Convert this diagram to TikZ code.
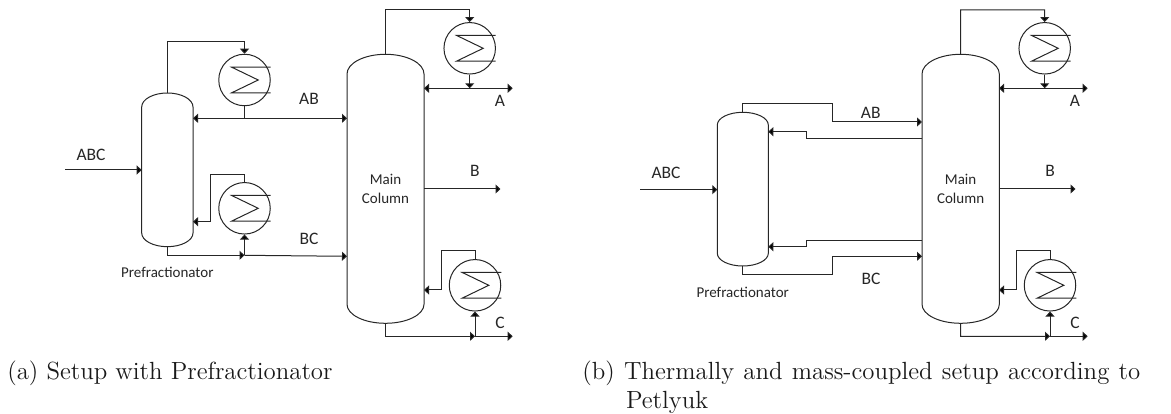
\documentclass[tikz,border=0pt]{standalone}
\usepackage{fontspec}
\usetikzlibrary{arrows.meta}
\newfontfamily\dgfont{Carlito}
\newcommand{\ColShape}[7]{%
  % name, xleft, xright, ytop, yshoulder top, yshoulder bottom, ybottom
  \pgfmathsetmacro{\cx}{(#2+#3)/2}
  \pgfmathsetmacro{\kx}{0.5523*(#3-#2)/2}
  \pgfmathsetmacro{\kt}{0.5523*(#5-#4)}
  \pgfmathsetmacro{\kb}{0.5523*(#7-#6)}
  \draw[vessel] (#2,#5) .. controls (#2,#5-\kt) and (\cx-\kx,#4) .. (\cx,#4)
     .. controls (\cx+\kx,#4) and (#3,#5-\kt) .. (#3,#5)
     -- (#3,#6) .. controls (#3,#6+\kb) and (\cx+\kx,#7) .. (\cx,#7)
     .. controls (\cx-\kx,#7) and (#2,#6+\kb) .. (#2,#6) -- cycle;
  \coordinate (#1-t) at (\cx,#4);
  \coordinate (#1-b) at (\cx,#7);
}
\newcommand{\Exch}[5]{%
  % name, cx, cy, x shift of the coil's left end, dummy
  \node[exch] (#1) at (#2,#3) {};
  \draw[vessel] (#2+#4+39,#3-12.8) -- (#2+#4,#3-12.8) -- (#2+#4+26.5,#3) -- (#2+#4,#3+12.8) -- (#2+#4+39,#3+12.8);
}
\tikzset{
  x=0.6pt,y=-0.6pt,
  vessel/.style={draw=black!85,line width=0.6pt,line join=miter},
  exch/.style={circle,draw=black!85,line width=0.6pt,minimum size=30.9pt,inner sep=0pt},
  pipe/.style={draw=black!85,line width=0.6pt},
  flow/.style={pipe,-{Triangle[length=3pt,width=5.4pt,fill=black]}},
  lbl/.style={font=\dgfont\fontsize{10.5}{12}\selectfont,inner sep=0pt,text=black!85},
  lblsmall/.style={font=\dgfont\fontsize{9}{11}\selectfont,inner sep=0pt,text=black!85,align=center},
  capt/.style={anchor=base west,inner sep=0pt,font=\fontsize{14.9}{17}\selectfont,text=black!90},
}
\begin{document}
\begin{tikzpicture}
\useasboundingbox (0,0) rectangle (1171,414);
% ---------- (a) ----------
\ColShape{pf}{141.7}{193}{93}{107}{233}{246.7}
\ColShape{mc}{347}{424}{54.3}{74}{304.3}{323.3}
\Exch{e1}{244.5}{80}{-12.8}{}
\Exch{e2}{244.5}{208.3}{-12.8}{}
\Exch{e3}{469.7}{48.3}{-13}{}
\Exch{e4}{475}{285.3}{-12.7}{}
\coordinate (feedA) at (65,170);
\coordinate (pfIn) at (141.7,170);
\coordinate (pfTopR) at (193,118.3);
\coordinate (mcAB) at (347,118.3);
\coordinate (j1) at (244.5,118.3);
\coordinate (pfRet) at (193,221.7);
\coordinate (j2) at (244.5,255.3);
\coordinate (mcBC) at (347,256.3);
\coordinate (mcRetT) at (424,88.3);
\coordinate (j3) at (469.7,88.3);
\coordinate (aEnd) at (512.7,88.3);
\coordinate (mcB) at (424,189);
\coordinate (bEnd) at (500.5,189);
\coordinate (mcRetB) at (424,290);
\coordinate (j4) at (475,336.3);
\coordinate (cEnd) at (512.7,336.3);
\draw[flow] (feedA) -- (pfIn);
\draw[flow] (pf-t) -- (167.35,41.7) -- (244.5,41.7) -- (e1.north);
\draw[pipe] (e1.south) -- (j1);
\draw[flow] (j1) -- (pfTopR);
\draw[flow] (j1) -- (mcAB);
\draw[flow] (e2.north) -- (244.5,174.3) -- (210.3,174.3) -- (210.3,221.7) -- (pfRet);
\draw[flow] (pf-b) -- (167.35,255.3) -- (j2);
\draw[flow] (j2) -- (e2.south);
\draw[flow] (j2) -- (mcBC);
\draw[flow] (mc-t) -- (385.5,10) -- (469.7,10) -- (e3.north);
\draw[flow] (e3.south) -- (j3);
\draw[flow] (j3) -- (mcRetT);
\draw[flow] (j3) -- (aEnd);
\draw[flow] (mcB) -- (bEnd);
\draw[flow] (e4.north) -- (475,251) -- (441,251) -- (441,290) -- (mcRetB);
\draw[flow] (mc-b) -- (385.5,336.3) -- (j4);
\draw[flow] (j4) -- (e4.south);
\draw[flow] (j4) -- (cEnd);
\node[lbl] (tABC) at (91,155) {ABC};
\node[lbl] (tAB) at (309,99) {AB};
\node[lbl] (tBC) at (309,239) {BC};
\node[lbl] (tA) at (500,100.5) {A};
\node[lbl] (tB) at (475,170.7) {B};
\node[lbl] (tC) at (500,323.3) {C};
\node[lblsmall] (tP) at (167.3,272) {Prefractionator};
\node[lblsmall] (tM) at (385.5,189) {Main\\[0.5pt]Column};
% ---------- (b) ----------
\ColShape{qf}{717.3}{768.3}{112.3}{125}{253.3}{266}
\ColShape{nc}{922}{999.3}{54.3}{74}{304.3}{323.3}
\Exch{e5}{1044.7}{48.3}{-13}{}
\Exch{e6}{1050}{285.3}{-12.7}{}
\coordinate (feedB) at (640,189.7);
\coordinate (qfIn) at (717.3,189.7);
\coordinate (ncAB) at (922,122);
\coordinate (ncR1) at (922,138.3);
\coordinate (qfR1) at (768.3,131.7);
\coordinate (ncR2) at (922,240.3);
\coordinate (qfR2) at (768.3,246.7);
\coordinate (ncBC) at (922,256.3);
\coordinate (ncRetT) at (999,88.3);
\coordinate (j5) at (1044.7,88.3);
\coordinate (a2End) at (1087.7,88.3);
\coordinate (ncB) at (999,189);
\coordinate (b2End) at (1075.5,189);
\coordinate (ncRetB) at (999,290);
\coordinate (j6) at (1050,336.3);
\coordinate (c2End) at (1087.7,336.3);
\draw[flow] (feedB) -- (qfIn);
\draw[flow] (qf-t) -- (742.8,104) -- (832.3,104) -- (832.3,122) -- (ncAB);
\draw[flow] (ncR1) -- (806.7,138.3) -- (806.7,131.7) -- (qfR1);
\draw[flow] (ncR2) -- (806.7,240.3) -- (806.7,246.7) -- (qfR2);
\draw[flow] (qf-b) -- (742.8,274.3) -- (832.3,274.3) -- (832.3,256.3) -- (ncBC);
\draw[flow] (nc-t) -- (960.6,10) -- (1044.7,10) -- (e5.north);
\draw[flow] (e5.south) -- (j5);
\draw[flow] (j5) -- (ncRetT);
\draw[flow] (j5) -- (a2End);
\draw[flow] (ncB) -- (b2End);
\draw[flow] (e6.north) -- (1050,251) -- (1016,251) -- (1016,290) -- (ncRetB);
\draw[flow] (nc-b) -- (960.6,336.3) -- (j6);
\draw[flow] (j6) -- (e6.south);
\draw[flow] (j6) -- (c2End);
\node[lbl] (uABC) at (666,173.3) {ABC};
\node[lbl] (uAB) at (870.7,112.7) {AB};
\node[lbl] (uBC) at (871,279.3) {BC};
\node[lbl] (uA) at (1075,100.5) {A};
\node[lbl] (uB) at (1050,170.7) {B};
\node[lbl] (uC) at (1075,323.3) {C};
\node[lblsmall] (uP) at (742.7,292.3) {Prefractionator};
\node[lblsmall] (uM) at (960.6,189) {Main\\[0.5pt]Column};
% ---------- captions ----------
\node[capt] (capA) at (7,380) {(a) Setup with Prefractionator};
\node[capt] (capB) at (582,380) {\makebox[334.8pt][s]{(b) Thermally and mass-coupled setup according to}};
\node[capt] (capB2) at (625.7,408.3) {Petlyuk};
\end{tikzpicture}
\end{document}
